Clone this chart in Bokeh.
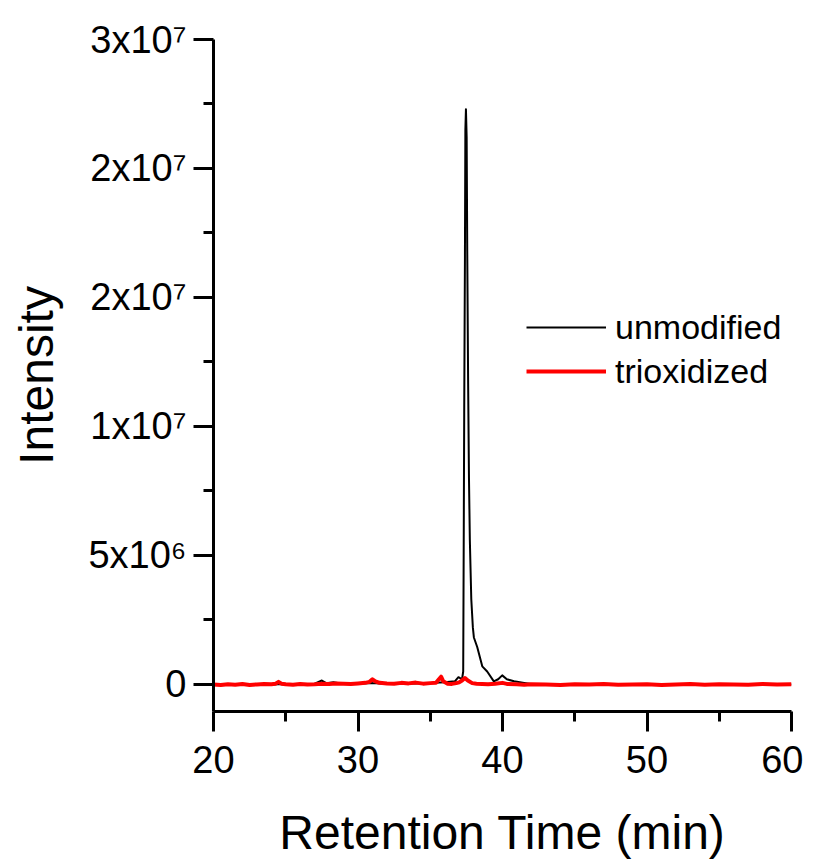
from bokeh.plotting import figure
from bokeh.models import FixedTicker, Legend, LegendItem, Range1d
from bokeh.embed import file_html
from bokeh.resources import INLINE

# ---- data (retention time in min, intensity in counts) ----
unmod_time = [20.0, 21.0, 22.0, 23.0, 24.0, 25.0, 26.0, 27.0, 27.5, 27.8, 28.3, 29.0, 30.0,
              31.0, 32.0, 33.0, 34.0, 35.0, 36.0, 36.7, 36.95, 37.2, 37.28, 37.32, 37.35,
              37.40, 37.43, 37.47, 37.52, 37.56, 37.62, 37.68, 37.74, 37.84, 37.95, 38.02,
              38.25, 38.6, 38.94, 39.4, 39.7, 39.98, 40.3, 40.8, 41.5, 42.0, 45.0, 50.0,
              55.0, 60.0]
unmod_int = [0.00e6, 0.02e6, -0.02e6, 0.01e6, 0.00e6, 0.02e6, -0.01e6, 0.03e6, 0.15e6, 0.05e6,
             0.08e6, 0.02e6, 0.03e6, 0.05e6, 0.02e6, 0.03e6, 0.04e6, 0.05e6, 0.08e6, 0.12e6,
             0.28e6, 0.20e6, 0.50e6, 6.0e6, 10.5e6, 16.5e6, 21.5e6, 22.3e6, 21.2e6, 16.8e6,
             11.8e6, 8.0e6, 5.6e6, 3.3e6, 2.2e6, 1.82e6, 1.45e6, 0.70e6, 0.50e6, 0.12e6,
             0.20e6, 0.35e6, 0.20e6, 0.12e6, 0.06e6, 0.02e6, 0.01e6, 0.00e6, 0.01e6, 0.00e6]

triox_time = [20.0, 20.5, 21.0, 21.5, 22.0, 22.5, 23.0, 23.5, 24.0, 24.3, 24.5, 24.7, 25.0,
              25.5, 26.0, 26.5, 27.0, 27.5, 28.0, 28.5, 29.0, 29.5, 30.0, 30.5, 30.8, 31.0,
              31.2, 31.5, 32.0, 32.5, 33.0, 33.5, 34.0, 34.5, 35.0, 35.4, 35.6, 35.75, 35.9,
              36.2, 36.5, 36.8, 37.0, 37.2, 37.4, 37.6, 37.9, 38.2, 38.6, 39.0, 39.5, 40.0,
              40.3, 41.0, 41.5, 42.0, 43.0, 44.0, 45.0, 46.0, 47.0, 48.0, 49.0, 50.0, 51.0,
              52.0, 53.0, 54.0, 55.0, 56.0, 57.0, 58.0, 59.0, 60.0]
triox_int = [0.00e6, -0.02e6, 0.01e6, -0.01e6, 0.02e6, -0.02e6, 0.00e6, 0.02e6, 0.01e6, 0.03e6,
             0.10e6, 0.03e6, 0.01e6, -0.01e6, 0.02e6, 0.00e6, 0.01e6, 0.03e6, 0.02e6, 0.04e6,
             0.03e6, 0.02e6, 0.04e6, 0.06e6, 0.10e6, 0.20e6, 0.12e6, 0.06e6, 0.04e6, 0.03e6,
             0.06e6, 0.04e6, 0.07e6, 0.03e6, 0.05e6, 0.06e6, 0.20e6, 0.30e6, 0.12e6, 0.03e6,
             0.02e6, 0.05e6, 0.08e6, 0.15e6, 0.25e6, 0.15e6, 0.05e6, 0.03e6, 0.02e6, 0.01e6,
             0.03e6, 0.06e6, 0.02e6, 0.01e6, -0.01e6, 0.01e6, 0.00e6, -0.02e6, 0.01e6, 0.00e6,
             0.02e6, -0.01e6, 0.00e6, 0.01e6, -0.02e6, 0.00e6, 0.02e6, -0.01e6, 0.01e6, 0.00e6,
             -0.01e6, 0.02e6, 0.00e6, 0.01e6]

x_ticks = [20, 30, 40, 50, 60]
x_minor = [25, 35, 45, 55]
y_ticks = [0, 5000000, 10000000, 15000000, 20000000, 25000000]
y_tick_labels = ["0", "5x10\u2076", "1x10\u2077", "2x10\u2077", "2x10\u2077", "3x10\u2077"]
y_minor = [2500000, 7500000, 12500000, 17500000, 22500000]

series_names = ["unmodified", "trioxidized"]
series_colors = ["black", "#ff0000"]

FONT = "Liberation Sans"

p = figure(frame_width=578, frame_height=672,
           x_range=Range1d(20, 60), y_range=Range1d(-1.05e6, 2.5e7),
           output_backend="svg", toolbar_location=None,
           min_border_left=213, min_border_top=39, min_border_right=12,
           min_border_bottom=130)
p.outline_line_color = None
p.grid.visible = False
p.background_fill_color = "white"
p.border_fill_color = "white"

r1 = p.line(unmod_time, unmod_int, line_color=series_colors[0], line_width=2,
            line_join="round")
r2 = p.line(triox_time, triox_int, line_color=series_colors[1], line_width=4,
            line_join="round")

for ax in (p.xaxis[0], p.yaxis[0]):
    ax.axis_line_width = 3
    ax.major_tick_line_width = 3
    ax.minor_tick_line_width = 3
    ax.major_tick_in = 0
    ax.major_tick_out = 20
    ax.minor_tick_in = 0
    ax.minor_tick_out = 10
    ax.major_label_text_font = FONT
    ax.major_label_text_font_size = "38px"
    ax.major_label_text_color = "black"
    ax.axis_label_text_font = FONT
    ax.axis_label_text_font_size = "48px"
    ax.axis_label_text_font_style = "normal"
    ax.axis_label_text_color = "black"

p.xaxis[0].ticker = FixedTicker(ticks=x_ticks, minor_ticks=x_minor)
p.yaxis[0].ticker = FixedTicker(ticks=y_ticks, minor_ticks=y_minor)
p.yaxis[0].major_label_overrides = {t: l for t, l in zip(y_ticks, y_tick_labels)}
p.xaxis[0].axis_label = "Retention Time (min)"
p.yaxis[0].axis_label = "Intensity"
p.xaxis[0].major_label_standoff = 14
p.yaxis[0].major_label_standoff = 7
p.xaxis[0].axis_label_standoff = 30
p.yaxis[0].axis_label_standoff = 22

legend = Legend(items=[LegendItem(label=series_names[0], renderers=[r1]),
                       LegendItem(label=series_names[1], renderers=[r2])],
                location=(313, 320), orientation="vertical")
legend.border_line_color = None
legend.background_fill_alpha = 0
legend.padding = 0
legend.margin = 0
legend.spacing = 4
legend.glyph_width = 80
legend.glyph_height = 40
legend.label_height = 40
legend.label_standoff = 9
legend.label_text_font = FONT
legend.label_text_font_size = "34px"
legend.label_text_color = "black"
p.add_layout(legend, "center")

open("out.html", "w").write(file_html(p, INLINE))
